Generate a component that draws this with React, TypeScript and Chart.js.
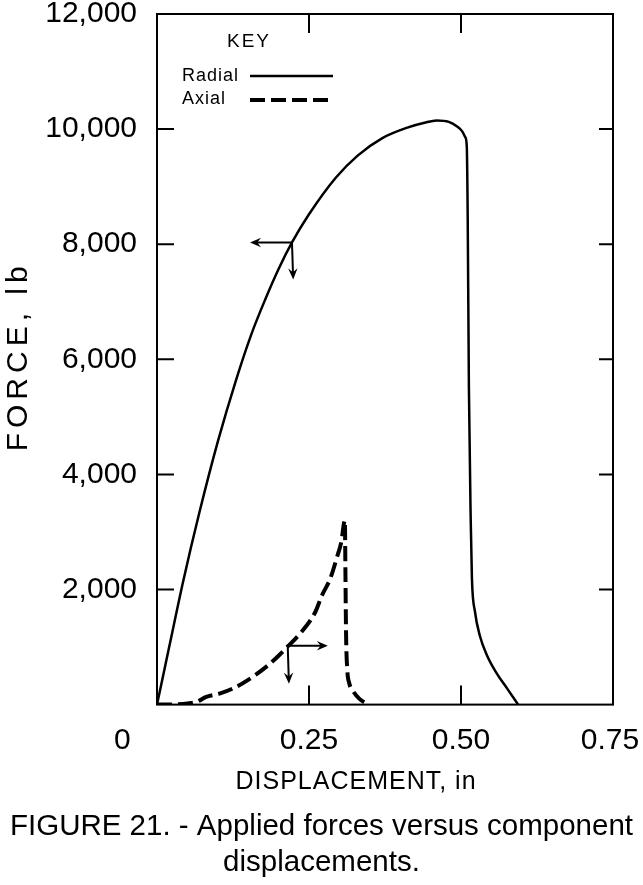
import React, { useEffect, useRef } from "react";
import { Chart, registerables } from "chart.js";

Chart.register(...registerables);

const FONT = "'Liberation Sans', Arial, sans-serif";

// Radial force vs displacement (solid)
const radialX = [0, 0.02, 0.043, 0.07, 0.1, 0.13, 0.155, 0.178, 0.2, 0.222, 0.25, 0.294, 0.33, 0.37, 0.413, 0.44, 0.46, 0.48, 0.493, 0.502, 0.507, 0.5095, 0.511, 0.513, 0.516, 0.518, 0.523, 0.531, 0.543, 0.559, 0.576, 0.594];
const radialY = [0, 1000, 2140, 3350, 4570, 5640, 6430, 7040, 7570, 8030, 8520, 9155, 9540, 9840, 10030, 10110, 10150, 10125, 10050, 9960, 9860, 9700, 8500, 5500, 3200, 2185, 1613, 1197, 850, 538, 278, 0];

// Axial force vs displacement (dashed)
const axialX = [0, 0.03, 0.05, 0.067, 0.08, 0.104, 0.125, 0.15, 0.18, 0.2, 0.215, 0.235, 0.26, 0.271, 0.285, 0.296, 0.303, 0.309, 0.31, 0.311, 0.313, 0.316, 0.322, 0.333, 0.347];
const axialY = [0, 5, 20, 55, 130, 195, 280, 430, 660, 850, 1010, 1230, 1600, 1890, 2190, 2560, 2820, 3200, 2200, 1200, 600, 380, 243, 100, 0];

// Axis ticks and labels
const yTickValues = [0, 2000, 4000, 6000, 8000, 10000, 12000];
const yTickLabels = ["", "2,000", "4,000", "6,000", "8,000", "10,000", "12,000"];
const yInnerTicks = [2000, 4000, 6000, 8000, 10000];
const xInnerTicks = [0.25, 0.5];
const xTickLabels = ["0", "0.25", "0.50", "0.75"];
const xTickLabelPos = [-0.057, 0.25, 0.5, 0.745];

const xTitle = "DISPLACEMENT, in";
const yTitle = "FORCE, lb";
const captionLines = ["FIGURE 21. - Applied forces versus component", "displacements."];

// Direction arrows (data coordinates): [fromX, fromY, toX, toY]
const radialArrows = [
  [0.222, 8030, 0.153, 8030],
  [0.222, 8030, 0.224, 7387],
];
const axialArrows = [
  [0.215, 1023, 0.281, 1023],
  [0.215, 1023, 0.217, 364],
];

const toPoints = (xs: number[], ys: number[]) => xs.map((x, i) => ({ x, y: ys[i] }));

function drawArrow(ctx: CanvasRenderingContext2D, x0: number, y0: number, x1: number, y1: number) {
  const ang = Math.atan2(y1 - y0, x1 - x0);
  const head = 12;
  ctx.beginPath();
  ctx.moveTo(x0, y0);
  ctx.lineTo(x1 - Math.cos(ang) * 4, y1 - Math.sin(ang) * 4);
  ctx.stroke();
  ctx.beginPath();
  ctx.moveTo(x1, y1);
  ctx.lineTo(x1 - head * Math.cos(ang - 0.4), y1 - head * Math.sin(ang - 0.4));
  ctx.lineTo(x1 - head * 0.6 * Math.cos(ang), y1 - head * 0.6 * Math.sin(ang));
  ctx.lineTo(x1 - head * Math.cos(ang + 0.4), y1 - head * Math.sin(ang + 0.4));
  ctx.closePath();
  ctx.fill();
}

const decorPlugin = {
  id: "decor",
  afterDraw(chart: any) {
    const { ctx, chartArea: a, scales } = chart;
    const xs = scales.x;
    const ys = scales.y;
    ctx.save();
    ctx.strokeStyle = "#000";
    ctx.fillStyle = "#000";
    ctx.lineWidth = 2;
    ctx.setLineDash([]);
    // frame
    ctx.strokeRect(a.left, a.top, a.right - a.left, a.bottom - a.top);
    // inner ticks
    ctx.beginPath();
    yInnerTicks.forEach((v) => {
      const py = ys.getPixelForValue(v);
      ctx.moveTo(a.left, py);
      ctx.lineTo(a.left + 17, py);
      ctx.moveTo(a.right, py);
      ctx.lineTo(a.right - 14, py);
    });
    xInnerTicks.forEach((v) => {
      const px = xs.getPixelForValue(v);
      ctx.moveTo(px, a.bottom);
      ctx.lineTo(px, a.bottom - 19);
      ctx.moveTo(px, a.top);
      ctx.lineTo(px, a.top + 19);
    });
    ctx.stroke();
    // x tick labels
    ctx.font = `30px ${FONT}`;
    ctx.textAlign = "center";
    ctx.textBaseline = "middle";
    xTickLabels.forEach((t, i) => {
      ctx.fillText(t, xs.getPixelForValue(xTickLabelPos[i]), a.bottom + 36);
    });
    // x axis title
    ctx.font = `25px ${FONT}`;
    (ctx as any).letterSpacing = "1px";
    ctx.fillText(xTitle, 356, a.bottom + 78);
    // y axis title
    ctx.save();
    ctx.translate(19, (a.top + a.bottom) / 2);
    ctx.rotate(-Math.PI / 2);
    ctx.font = `30px ${FONT}`;
    (ctx as any).letterSpacing = "5px";
    ctx.fillText(yTitle, 3, 0);
    ctx.restore();
    (ctx as any).letterSpacing = "0px";
    // arrows
    ctx.lineWidth = 2;
    [...radialArrows, ...axialArrows].forEach(([fx, fy, tx, ty]) => {
      drawArrow(ctx, xs.getPixelForValue(fx), ys.getPixelForValue(fy), xs.getPixelForValue(tx), ys.getPixelForValue(ty));
    });
    // key
    ctx.font = `19px ${FONT}`;
    ctx.textAlign = "center";
    (ctx as any).letterSpacing = "2px";
    ctx.fillText("KEY", 249, 42);
    (ctx as any).letterSpacing = "1px";
    ctx.font = `18px ${FONT}`;
    ctx.textAlign = "left";
    ctx.fillText("Radial", 182, 76);
    ctx.fillText("Axial", 182, 99);
    (ctx as any).letterSpacing = "0px";
    ctx.lineWidth = 2.5;
    ctx.beginPath();
    ctx.moveTo(250, 76);
    ctx.lineTo(333, 76);
    ctx.stroke();
    ctx.lineWidth = 4;
    ctx.setLineDash([15, 6]);
    ctx.beginPath();
    ctx.moveTo(250, 100);
    ctx.lineTo(333, 100);
    ctx.stroke();
    ctx.restore();
  },
};

export default function App() {
  const canvasRef = useRef<HTMLCanvasElement | null>(null);

  useEffect(() => {
    if (!canvasRef.current) return;
    const chart = new Chart(canvasRef.current, {
      type: "line",
      data: {
        datasets: [
          {
            label: "Radial",
            data: toPoints(radialX, radialY),
            borderColor: "#000",
            borderWidth: 2.5,
            pointRadius: 0,
            cubicInterpolationMode: "monotone",
            fill: false,
          },
          {
            label: "Axial",
            data: toPoints(axialX, axialY),
            borderColor: "#000",
            borderWidth: 4,
            borderDash: [15, 6],
            pointRadius: 0,
            cubicInterpolationMode: "monotone",
            fill: false,
          },
        ],
      },
      options: {
        animation: false,
        responsive: false,
        devicePixelRatio: 1,
        layout: { padding: { top: 14, left: 0, right: 0, bottom: 0 } },
        plugins: {
          legend: { display: false },
          tooltip: { enabled: false },
          title: {
            display: true,
            position: "bottom",
            text: captionLines,
            color: "#000",
            font: { family: FONT, size: 29.5, weight: "normal", lineHeight: 1.2 },
            padding: { top: 0, bottom: 4.6 },
          },
        },
        scales: {
          x: {
            type: "linear",
            min: 0,
            max: 0.75,
            ticks: { display: false },
            grid: { display: false },
            border: { display: false },
            title: { display: false },
            afterFit(s: any) {
              s.height = 105;
              s.paddingLeft = 0;
              s.paddingRight = 0;
            },
          },
          y: {
            type: "linear",
            min: 0,
            max: 12000,
            afterBuildTicks(s: any) {
              s.ticks = yTickValues.map((v) => ({ value: v }));
            },
            ticks: {
              color: "#000",
              font: { family: FONT, size: 30, lineHeight: 1.2 },
              padding: 20,
              callback: (v: any) => {
                const i = yTickValues.indexOf(Number(v));
                return i >= 0 ? yTickLabels[i] : "";
              },
            },
            grid: { display: false, drawTicks: false },
            border: { display: false },
            title: { display: false },
            afterFit(s: any) {
              s.width = 157;
              s.paddingTop = 0;
              s.paddingBottom = 0;
            },
          },
          y2: {
            type: "linear",
            position: "right",
            display: true,
            ticks: { display: false },
            grid: { display: false },
            border: { display: false },
            afterFit(s: any) {
              s.width = 30;
              s.paddingTop = 0;
              s.paddingBottom = 0;
            },
          },
        },
      },
      plugins: [decorPlugin],
    } as any);
    return () => chart.destroy();
  }, []);

  return (
    <div style={{ position: "absolute", left: 0, top: 0, width: 643, height: 885, background: "#fff" }}>
      <canvas ref={canvasRef} width={643} height={885} style={{ display: "block", width: 643, height: 885 }} />
    </div>
  );
}
